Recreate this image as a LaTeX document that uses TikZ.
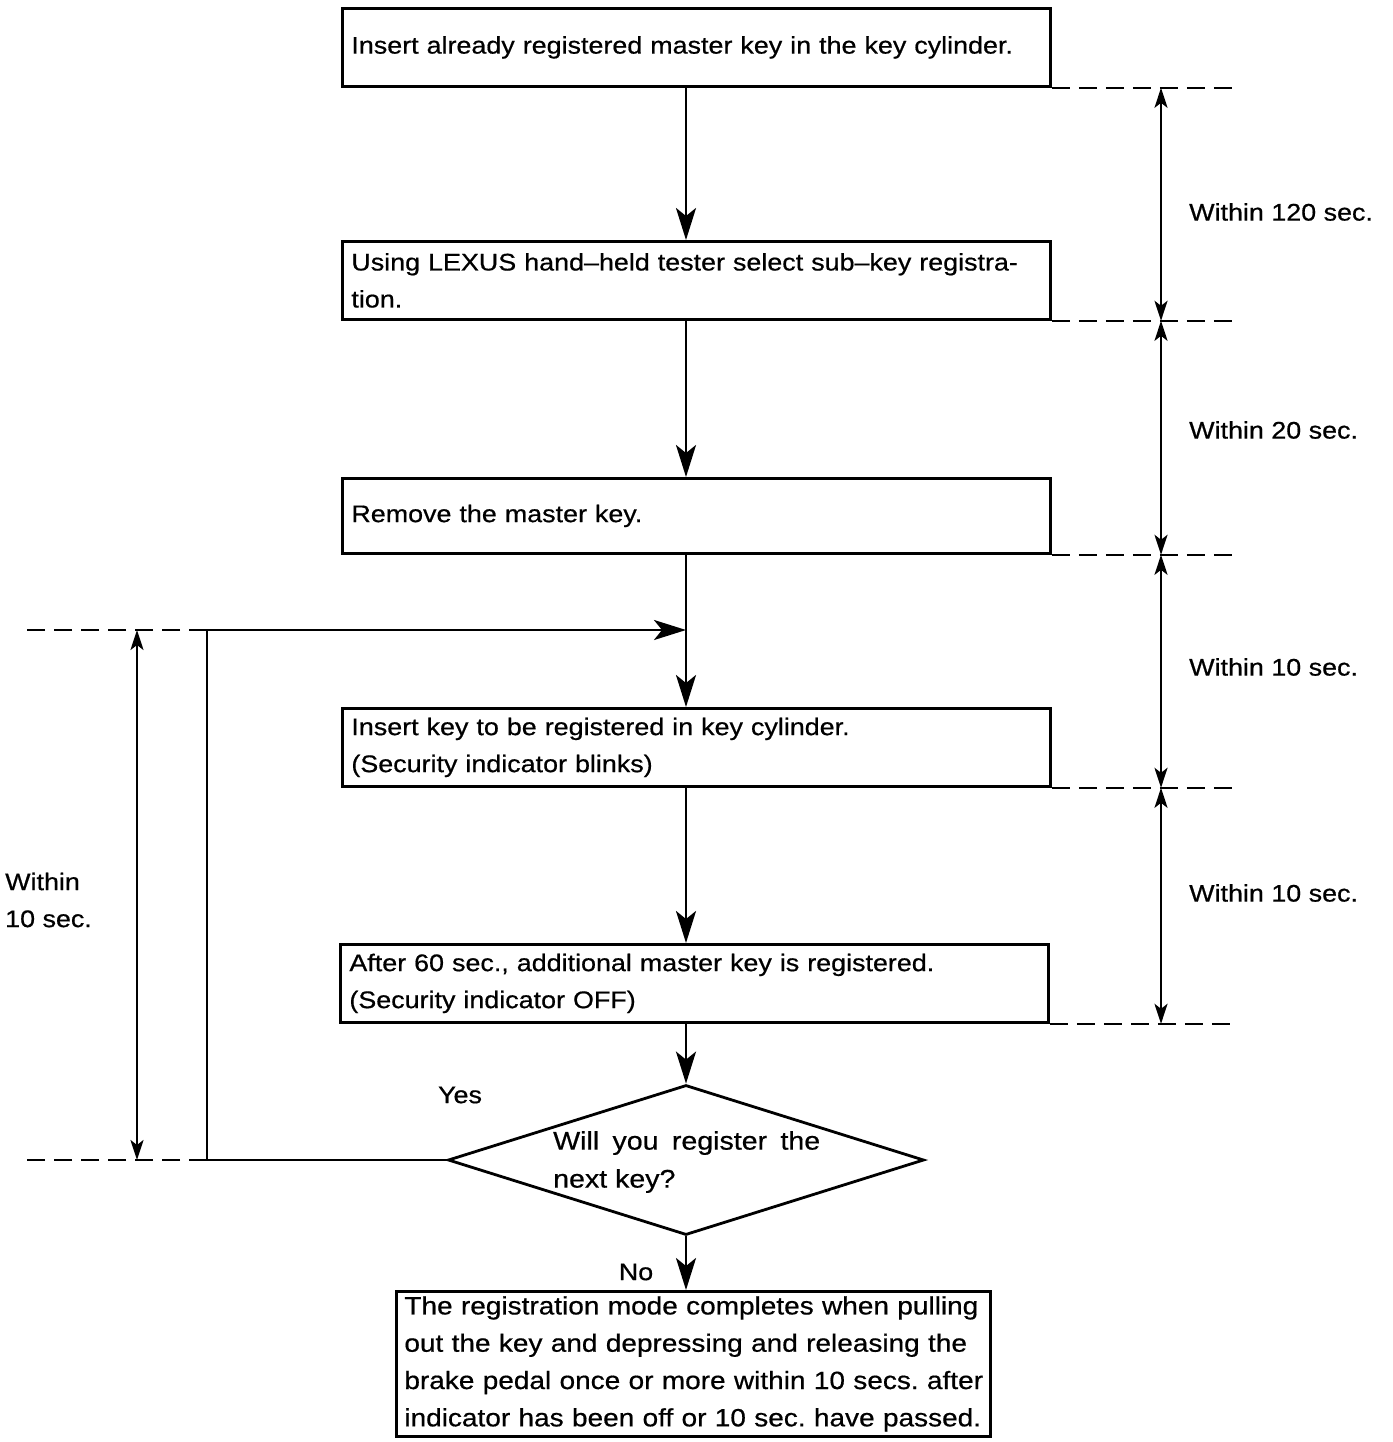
\documentclass[tikz,border=0pt]{standalone}
\usepackage{fontspec}
\setmainfont{Liberation Sans}[FakeStretch=1.12,FakeBold=0.6]
\usetikzlibrary{arrows.meta,shapes.geometric}
\frenchspacing
\begin{document}
\begin{tikzpicture}[x=1pt,y=-1pt,
  txt/.style={font=\fontsize{24}{37}\selectfont},
  box/.style={draw,line width=2.8pt,minimum height=78pt,text width=690pt,inner xsep=9pt,inner ysep=4pt,align=left,anchor=north west,txt},
  flow/.style={line width=2.8pt,-{Stealth[length=32pt,width=20pt,inset=8pt]}},
  dimtip/.tip={Stealth[length=20pt,width=13pt,inset=5pt]},
  dim/.style={line width=2.4pt,dimtip-dimtip},
  guide/.style={line width=2.4pt,dash pattern=on 18pt off 9pt},
  lbl/.style={txt,inner sep=0pt,align=left}
]
\useasboundingbox (0,0) rectangle (1392,1442);

% process boxes
\node[box] (b1) at (341,7) {Insert already registered master key in the key cylinder.};
\node[box] (b2) at (341,240) {Using LEXUS hand--held tester select sub--key registra-\\tion.};
\node[box,minimum height=75pt] (b3) at (341,477) {Remove the master key.};
\node[box] (b4) at (341,707) {Insert key to be registered in key cylinder.\\(Security indicator blinks)};
\node[box] (b5) at (339,943) {After 60 sec., additional master key is registered.\\(Security indicator OFF)};

% decision
\node[draw,diamond,line width=2.8pt,minimum width=476pt,minimum height=150pt,inner sep=0pt] (dia) at (686,1160) {};
\node[lbl,anchor=west,font=\fontsize{25.5}{38}\selectfont] (dq) at (553,1162) {\makebox[267pt][s]{Will you register the}\\next key?};

% final box
\node[draw,line width=2.8pt,anchor=north west,text width=578pt,inner xsep=8pt,inner ysep=3pt,minimum height=145pt,align=left,font=\fontsize{25}{37.3}\selectfont] (fb) at (395,1290)
 {\makebox[578pt][s]{The registration mode completes when pulling}\\
  \makebox[578pt][s]{out the key and depressing and releasing the}\\
  \makebox[578pt][s]{brake pedal once or more within 10 secs. after}\\
  \makebox[578pt][s]{indicator has been off or 10 sec. have passed.}};

% helper coordinates
\coordinate (jn) at (686,630);
\coordinate (lp) at (207,630);
\coordinate (gR) at (1237,0);
\coordinate (dR) at (1161,0);
\coordinate (gL) at (22,0);
\coordinate (dL) at (137,0);

% main flow
\draw[flow] (b1.south -| dia.north) -- (b2.north -| dia.north);
\draw[flow] (b2.south -| dia.north) -- (b3.north -| dia.north);
\draw[flow] (b3.south -| dia.north) -- (b4.north -| dia.north);
\draw[flow] (b4.south -| dia.north) -- (b5.north -| dia.north);
\draw[flow] (b5.south -| dia.north) -- (dia.north);
\draw[flow] (dia.south) -- (dia.south |- fb.north);
\draw[flow] (dia.west) -- (dia.west -| lp) -- (lp) -- (jn);

% labels on decision
\node[lbl] (yes) at (460,1095) {Yes};
\node[lbl] (no) at (636,1272) {No};

% right guides and dimensions
\foreach \b in {b1,b2,b3,b4,b5}{
  \draw[guide] (\b.south east) -- (\b.south east -| gR);
}
\draw[dim] (b1.south east -| dR) -- (b2.south east -| dR);
\draw[dim] (b2.south east -| dR) -- (b3.south east -| dR);
\draw[dim] (b3.south east -| dR) -- (b4.south east -| dR);
\draw[dim] (b4.south east -| dR) -- (b5.south east -| dR);

\node[lbl,anchor=west] (t1) at (1189,212) {Within 120 sec.};
\node[lbl,anchor=west] (t2) at (1189,430) {Within 20 sec.};
\node[lbl,anchor=west] (t3) at (1189,667) {Within 10 sec.};
\node[lbl,anchor=west] (t4) at (1189,893) {Within 10 sec.};

% left guides and dimension
\draw[guide] (lp) -- (lp -| gL);
\draw[guide] (dia.west -| lp) -- (dia.west -| gL);
\draw[dim] (lp -| dL) -- (dia.west -| dL);
\node[lbl,anchor=west] (tl) at (5,900) {Within\\10 sec.};
\end{tikzpicture}
\end{document}
